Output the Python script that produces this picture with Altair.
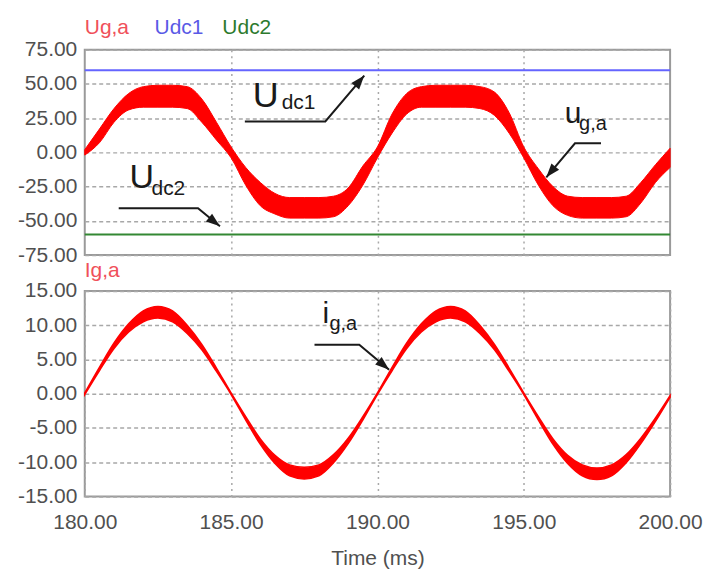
import altair as alt
import pandas as pd

# ---------------- data ----------------
time_ms = [180.0, 180.5, 181.0, 181.5, 182.0, 182.5, 183.0, 183.5, 184.0, 184.5,
           185.0, 185.5, 186.0, 186.5, 187.0, 187.5, 188.0, 188.5, 189.0, 189.5,
           190.0, 190.5, 191.0, 191.5, 192.0, 192.5, 193.0, 193.5, 194.0, 194.5,
           195.0, 195.5, 196.0, 196.5, 197.0, 197.5, 198.0, 198.5, 199.0, 199.5,
           200.0]

# Ug,a : upper / lower edge of the (noisy) red band
ug_upper = [2, 17, 32, 43, 48, 49, 49, 48, 39, 22,
            4, -11, -22, -30, -33, -33, -33, -32, -26, -10,
            4, 28, 43, 48, 49, 49, 49, 48, 44, 29,
            4, -12, -25, -32, -33, -33, -33, -32, -22, -9,
            3]
ug_lower = [-2, 7, 22, 31, 33, 33, 33, 32, 22, 9,
            -4, -24, -39, -45, -48, -48, -48, -47, -39, -24,
            -4, 14, 28, 33, 33, 33, 33, 32, 27, 14,
            -4, -24, -39, -46, -48, -48, -48, -47, -37, -22,
            -11]

# Ig,a : upper / lower edge of the red current trace
ig_upper = [0.12, 3.85, 7.4, 10.2, 12.1, 12.75, 12.1, 10.0, 7.2, 3.75,
            0.12, -3.35, -6.6, -9.0, -10.4, -10.75, -10.4, -8.9, -6.5, -3.35,
            0.12, 3.85, 7.4, 10.2, 12.1, 12.75, 12.1, 10.0, 7.2, 3.75,
            0.12, -3.35, -6.6, -9.0, -10.4, -10.85, -10.4, -8.9, -6.5, -3.55,
            -0.28]
ig_lower = [-0.12, 3.35, 6.6, 9.0, 10.5, 11.05, 10.5, 8.8, 6.4, 3.25,
            -0.12, -3.85, -7.4, -10.2, -12.0, -12.45, -12.0, -10.1, -7.3, -3.85,
            -0.12, 3.35, 6.6, 9.0, 10.5, 11.05, 10.5, 8.8, 6.4, 3.25,
            -0.12, -3.85, -7.4, -10.2, -12.0, -12.55, -12.0, -10.1, -7.3, -4.05,
            -0.52]

udc1_value = [60.0]
udc2_value = [-60.0]

x_tick_values = [180, 185, 190, 195, 200]
u_tick_values = [75, 50, 25, 0, -25, -50, -75]
i_tick_values = [15, 10, 5, 0, -5, -10, -15]

top_series_names = ["Ug,a", "Udc1", "Udc2"]
bottom_series_names = ["Ig,a"]
annotation_main = ["U", "U", "u", "i"]
annotation_sub = ["dc1", "dc2", "g,a", "g,a"]
x_title = "Time (ms)"

# ---------------- styling ----------------
FONT = "Liberation Sans"
RED = "#ff0000"
BLUE = "#6464ff"
GREEN = "#338833"
GRID = "#a8a8a8"
FRAME = "#9a9a9a"
LABEL = "#505050"
INK = "#1a1a1a"
W, H = 587, 206
LBL = "(datum.value < 0 ? '-' : '') + format(abs(datum.value), '.2f')"
ARROW = "M0,0L-0.36,1L0.36,1Z"

xs = alt.Scale(domain=[180, 200], nice=False, zero=False)
ys_top = alt.Scale(domain=[-75, 75], nice=False, zero=False)
ys_bot = alt.Scale(domain=[-15, 15], nice=False, zero=False)

x_top_axis = alt.Axis(values=x_tick_values[1:-1], labels=False, ticks=False, domain=False,
                      grid=True, gridDash=[2, 4], gridColor=GRID, gridWidth=1.5, title=None)
y_top_axis = alt.Axis(values=u_tick_values, labelExpr=LBL, labelOverlap=False, ticks=False,
                      domain=False, grid=True, gridDash=[4, 3], gridColor=GRID, gridWidth=1.5,
                      labelPadding=8, title=None)
x_bot_axis = alt.Axis(values=x_tick_values, labelExpr=LBL, labelFlush=False, labelOverlap=False,
                      ticks=False, domain=False, grid=True, gridDash=[2, 4], gridColor=GRID,
                      gridWidth=1.5, labelPadding=15, title=x_title, titlePadding=15)
y_bot_axis = alt.Axis(values=i_tick_values, labelExpr=LBL, labelOverlap=False, ticks=False,
                      domain=False, grid=True, gridDash=[4, 3], gridColor=GRID, gridWidth=1.5,
                      labelPadding=8, title=None)


def enc_xy(ys, xa, ya, yfield="v:Q"):
    return dict(x=alt.X("t:Q", scale=xs, axis=xa), y=alt.Y(yfield, scale=ys, axis=ya))


def ann_text(t, v, txt, size, ys, xa, ya):
    return alt.Chart(pd.DataFrame({"t": [t], "v": [v], "s": [txt]})).mark_text(
        align="left", baseline="alphabetic", font=FONT, fontSize=size, color=INK
    ).encode(text="s:N", **enc_xy(ys, xa, ya))


def ann_arrow(points, angle, ys, xa, ya):
    df = pd.DataFrame({"t": [p[0] for p in points], "v": [p[1] for p in points],
                       "k": list(range(len(points)))})
    line = alt.Chart(df).mark_line(color=INK, strokeWidth=2).encode(
        order="k:O", **enc_xy(ys, xa, ya))
    tip = pd.DataFrame({"t": [points[-1][0]], "v": [points[-1][1]]})
    head = alt.Chart(tip).mark_point(shape=ARROW, filled=True, size=784, opacity=1,
                                     color=INK, angle=angle).encode(**enc_xy(ys, xa, ya))
    return [line, head]


def legend_text(txt, px, py, color):
    return alt.Chart(pd.DataFrame({"s": [txt]})).mark_text(
        align="left", baseline="alphabetic", font=FONT, fontSize=21, color=color
    ).encode(x=alt.value(px), y=alt.value(py), text="s:N")


# ---------------- top panel ----------------
ug_df = pd.DataFrame({"t": time_ms, "up": ug_upper, "lo": ug_lower})
ug_band = alt.Chart(ug_df).mark_area(color=RED, stroke=RED, strokeWidth=1,
                                     interpolate="monotone", opacity=1).encode(
    y2="lo:Q", **enc_xy(ys_top, x_top_axis, y_top_axis, "up:Q"))

udc_df = pd.DataFrame({"name": ["Udc1", "Udc2"], "v": udc1_value + udc2_value})
udc_rules = alt.Chart(udc_df).mark_rule(strokeWidth=2).encode(
    y=alt.Y("v:Q", scale=ys_top, axis=y_top_axis),
    color=alt.Color("name:N", scale=alt.Scale(domain=["Udc1", "Udc2"], range=[BLUE, GREEN]),
                    legend=None))

TA = (ys_top, x_top_axis, y_top_axis)
top_layers = [ug_band, udc_rules,
              legend_text(top_series_names[0], 0, -16, "#f0505a"),
              legend_text(top_series_names[1], 70, -16, "#5a5ae6"),
              legend_text(top_series_names[2], 138, -16, "#2d7a2d"),
              ann_text(185.74, 33.5, annotation_main[0], 36, *TA),
              ann_text(186.73, 32.0, annotation_sub[0], 21, *TA),
              ann_text(181.53, -26.2, annotation_main[1], 34, *TA),
              ann_text(182.28, -31.3, annotation_sub[1], 21, *TA),
              ann_text(196.40, 21.8, annotation_main[2], 30, *TA),
              ann_text(196.89, 16.7, annotation_sub[2], 20, *TA)]
top_layers += ann_arrow([(185.47, 22.6), (188.22, 22.6), (189.55, 56.1)], 40, *TA)
top_layers += ann_arrow([(181.16, -40.8), (183.87, -40.8), (184.62, -53.9)], 128, *TA)
top_layers += ann_arrow([(197.64, 6.6), (196.75, 6.6), (195.77, -18.2)], 220, *TA)
top = alt.layer(*top_layers).properties(width=W, height=H)

# ---------------- bottom panel ----------------
ig_df = pd.DataFrame({"t": time_ms, "up": ig_upper, "lo": ig_lower})
ig_band = alt.Chart(ig_df).mark_area(color=RED, stroke=RED, strokeWidth=1.5,
                                     interpolate="monotone", opacity=1).encode(
    y2="lo:Q", **enc_xy(ys_bot, x_bot_axis, y_bot_axis, "up:Q"))

BA = (ys_bot, x_bot_axis, y_bot_axis)
bot_layers = [ig_band,
              legend_text(bottom_series_names[0], 0, -14, "#f0505a"),
              ann_text(188.12, 10.3, annotation_main[3], 30, *BA),
              ann_text(188.36, 9.3, annotation_sub[3], 20, *BA)]
bot_layers += ann_arrow([(187.85, 7.14), (189.38, 7.14), (190.4, 3.5)], 130, *BA)
bottom = alt.layer(*bot_layers).properties(width=W, height=H)

chart = alt.vconcat(top, bottom, spacing=36, bounds="flush").properties(
    padding={"left": 16, "top": 15, "right": 0, "bottom": 0}
).configure_view(stroke=FRAME, strokeWidth=2).configure_axis(
    labelFont=FONT, labelFontSize=21, labelColor=LABEL, labelOverlap=False,
    titleFont=FONT, titleFontSize=21, titleColor=LABEL, titleFontWeight="normal"
)

chart.save("out.html", embed_options={"renderer": "svg", "actions": False})
